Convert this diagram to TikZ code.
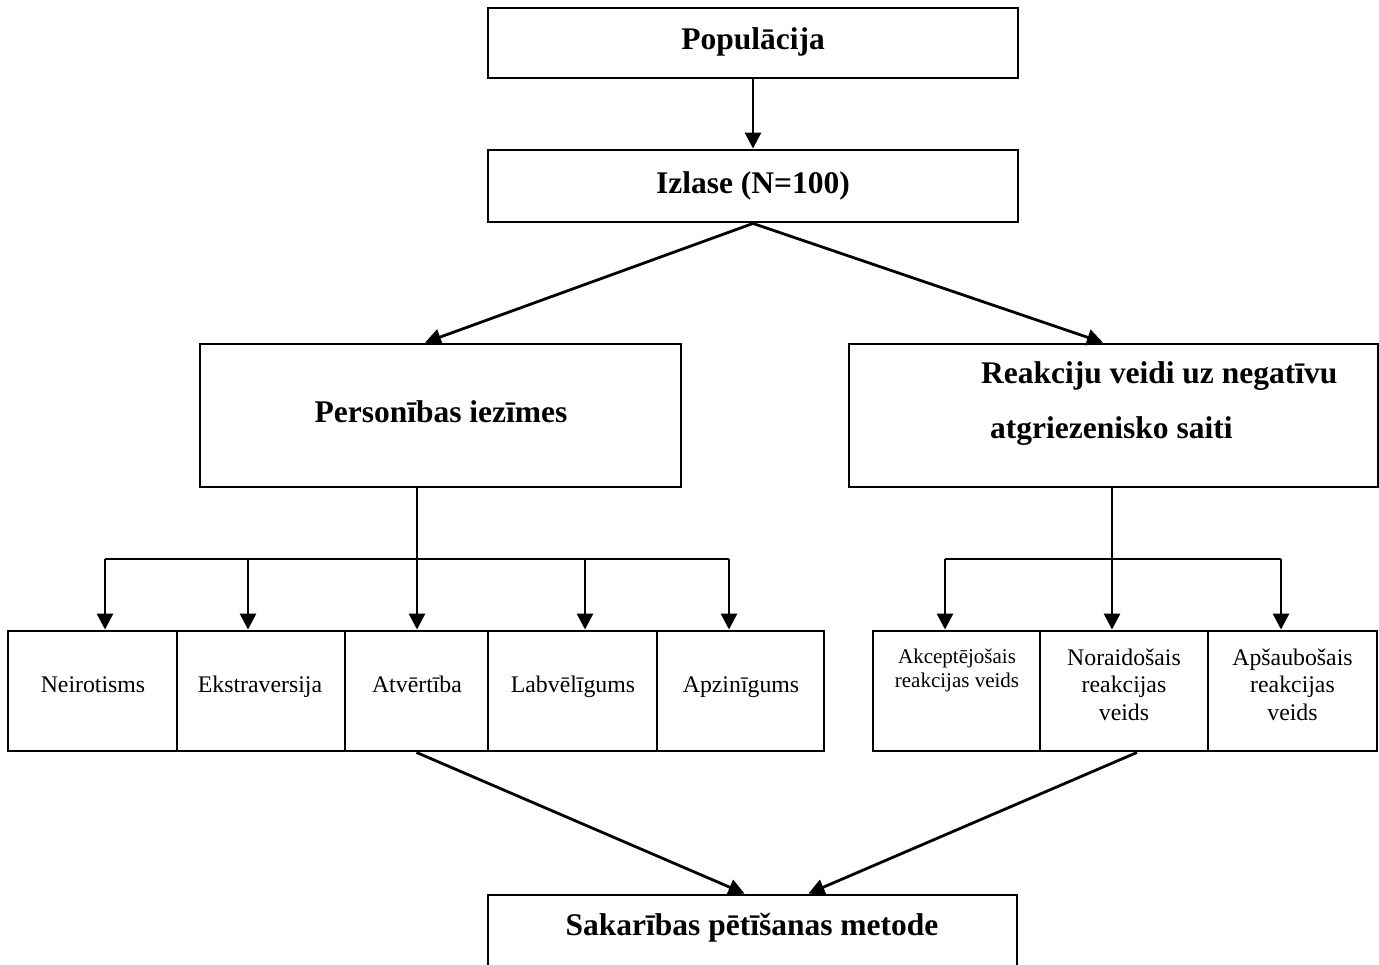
\documentclass[tikz,border=0pt]{standalone}
\usepackage{fontspec}
\setmainfont{Liberation Serif}
\usetikzlibrary{arrows.meta}
\begin{document}
\begin{tikzpicture}[x=1pt,y=-1pt,
  box/.style={draw, line width=2.9pt, inner sep=0pt, minimum height=#1},
  box/.default=120pt,
  conn/.style={line width=2.8pt},
  arr/.style={line width=2.8pt, -{Triangle[length=16pt,width=16pt]}},
  bt/.style={font=\fontsize{31.5}{38}\selectfont\bfseries, anchor=base, inner sep=0pt},
  rt/.style={font=\fontsize{23.8}{27.5}\selectfont, anchor=base, inner sep=0pt, align=center},
  st/.style={font=\fontsize{21}{24}\selectfont, anchor=base, inner sep=0pt, align=center}]
\useasboundingbox (0,0) rectangle (1379,964);
\clip (0,0) rectangle (1379,964);
% boxes
\node[box=70pt, minimum width=530pt] (pop) at (753,43) {};
\node[box=72pt, minimum width=530pt] (izl) at (753,186) {};
\node[box=143pt, minimum width=481pt] (pers) at (440.5,415.5) {};
\node[box=143pt, minimum width=529pt] (reak) at (1113.5,415.5) {};
\node[box, minimum width=169pt] (n1) at (92.5,691) {};
\node[box, minimum width=168pt] (n2) at (261,691) {};
\node[box, minimum width=143pt] (n3) at (416.5,691) {};
\node[box, minimum width=169pt] (n4) at (572.5,691) {};
\node[box, minimum width=167pt] (n5) at (740.5,691) {};
\node[box, minimum width=167pt] (r1) at (956.5,691) {};
\node[box, minimum width=168pt] (r2) at (1124,691) {};
\node[box, minimum width=169pt] (r3) at (1292.5,691) {};
\node[box=140pt, minimum width=529pt] (sak) at (752.5,965) {};
% texts
\node[bt] (tpop) at (753,49) {Populācija};
\node[bt] (tizl) at (753,193) {Izlase (N=100)};
\node[bt] (tpers) at (441,422) {Personības iezīmes};
\node[bt, anchor=base west] (treak1) at (981,383) {Reakciju veidi uz negatīvu};
\node[bt, anchor=base west] (treak2) at (990,438) {atgriezenisko saiti};
\node[bt] (tsak) at (752,935) {Sakarības pētīšanas metode};
\node[rt] (tn1) at (93,692) {Neirotisms};
\node[rt] (tn2) at (260,692) {Ekstraversija};
\node[rt] (tn3) at (417,692) {Atvērtība};
\node[rt] (tn4) at (573,692) {Labvēlīgums};
\node[rt] (tn5) at (741,692) {Apzinīgums};
\node[st] (tr1) at (957,687) {Akceptējošais\\reakcijas veids};
\node[rt] (tr2) at (1124,720) {Noraidošais\\reakcijas\\veids};
\node[rt] (tr3) at (1292.5,720) {Apšaubošais\\reakcijas\\veids};
% bus coordinates
\coordinate (lb1) at (105,559);
\coordinate (lb2) at (248,559);
\coordinate (lb3) at (417,559);
\coordinate (lb4) at (585,559);
\coordinate (lb5) at (729,559);
\coordinate (rb1) at (945,559);
\coordinate (rb2) at (1112,559);
\coordinate (rb3) at (1281,559);
% connectors
\draw[arr] (pop) -- (izl);
\draw[arr] (izl.south) -- ([xshift=-15.5pt]pers.north);
\draw[arr] (izl.south) -- ([xshift=-10.5pt]reak.north);
\draw[conn] ([xshift=-23.5pt]pers.south) -- (lb3);
\draw[conn] (lb1) -- (lb5);
\draw[arr] (lb1) -- (lb1 |- n1.north);
\draw[arr] (lb2) -- (lb2 |- n2.north);
\draw[arr] (lb3) -- (lb3 |- n3.north);
\draw[arr] (lb4) -- (lb4 |- n4.north);
\draw[arr] (lb5) -- (lb5 |- n5.north);
\draw[conn] ([xshift=-1.5pt]reak.south) -- (rb2);
\draw[conn] (rb1) -- (rb3);
\draw[arr] (rb1) -- (rb1 |- r1.north);
\draw[arr] (rb2) -- (rb2 |- r2.north);
\draw[arr] (rb3) -- (rb3 |- r3.north);
\draw[arr] (n3.south) -- ([xshift=-8pt]sak.north);
\draw[arr] ([xshift=13pt]r2.south) -- ([xshift=56pt]sak.north);
\end{tikzpicture}
\end{document}
